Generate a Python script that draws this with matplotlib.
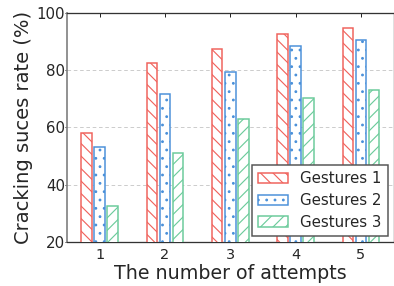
import numpy as np
import matplotlib
matplotlib.use('Agg')
import matplotlib.pyplot as plt

# values
attempts = [1, 2, 3, 4, 5]
gestures1 = [58.1, 82.4, 87.4, 92.7, 94.7]
gestures2 = [53.2, 71.6, 79.3, 88.3, 90.7]
gestures3 = [32.5, 50.9, 63.0, 70.4, 73.2]
series_names = ['Gestures 1', 'Gestures 2', 'Gestures 3']
yticks = [20, 40, 60, 80, 100]

# render at 150 dpi so the hatch spacing matches; sizes below are in "72-dpi points" times s
DPI = 150
s = 72 / DPI

plt.rcParams['font.family'] = ['DejaVu Sans']
plt.rcParams['hatch.linewidth'] = 0.55
text_color = '#262626'

colors = ['#f0625c', '#4a90d9', '#6bcb9b']
hatches = ['\\\\\\\\', '...', '////']

fig = plt.figure(figsize=(394 / DPI, 286 / DPI), dpi=DPI)
ax = fig.add_axes([0.170, 0.154, 0.829, 0.801])

x = np.array(attempts)
width = 0.16
offsets = [-0.2, 0.0, 0.2]
for vals, name, c, h, off in zip([gestures1, gestures2, gestures3], series_names, colors, hatches, offsets):
    ax.bar(x + off, vals, width, label=name, color='white', edgecolor=c,
           hatch=h, linewidth=1.5 * s, zorder=3)

ax.set_xlim(0.5, 5.5)
ax.set_ylim(20, 100)
ax.set_xticks(attempts)
ax.set_yticks(yticks)
ax.yaxis.grid(True, linestyle=(0, (4, 3)), color='#c8c8c8', linewidth=0.9 * s, zorder=0)

ax.tick_params(axis='x', direction='in', top=True, bottom=True, length=4 * s, width=s,
               labelsize=14.5 * s, colors=text_color, pad=6 * s)
ax.tick_params(axis='y', direction='out', left=True, length=2 * s, width=s,
               labelsize=15 * s, colors=text_color, pad=0)
ax.tick_params(axis='y', which='both', right=True, labelright=False)

ax.spines['left'].set_color('#888888')
ax.spines['left'].set_linewidth(1.8 * s)
for side in ['bottom', 'top', 'right']:
    ax.spines[side].set_color('#333333')
    ax.spines[side].set_linewidth(1.3 * s)

ax.set_xlabel('The number of attempts', fontsize=19 * s, color=text_color, labelpad=2 * s)
ax.set_ylabel('Cracking suces rate (%)', fontsize=19.5 * s, color=text_color, labelpad=3 * s)

leg = ax.legend(loc='lower right', fontsize=15 * s, fancybox=False, framealpha=1,
                edgecolor='#555555', borderaxespad=0.4, handlelength=2.0,
                labelspacing=0.45)
leg.get_frame().set_linewidth(1.5 * s)
for t in leg.get_texts():
    t.set_color(text_color)

fig.savefig('out.png', dpi=DPI)
